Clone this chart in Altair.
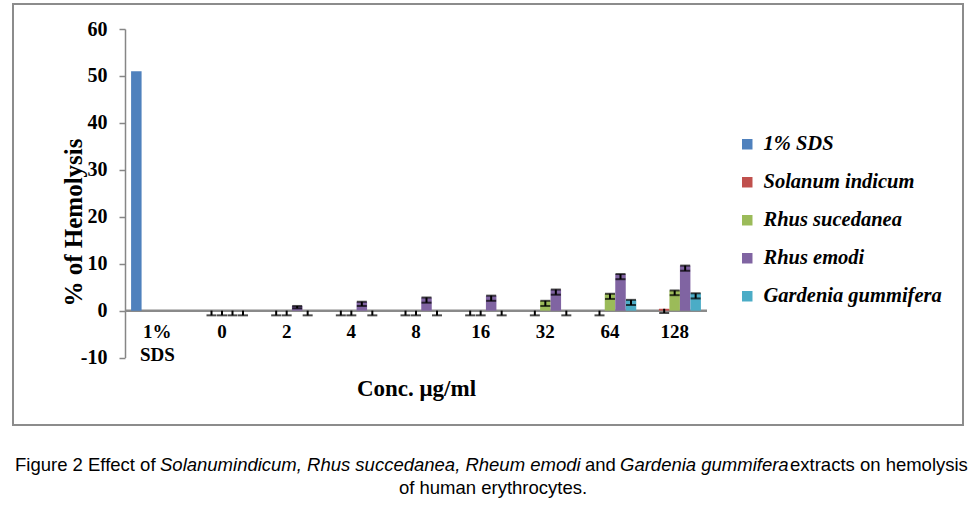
import altair as alt
import pandas as pd

categories = ["1% SDS", "0", "2", "4", "8", "16", "32", "64", "128"]
series = ["1% SDS", "Solanum indicum", "Rhus sucedanea", "Rhus emodi", "Gardenia gummifera"]
colors = ["#4F81BD", "#C0504D", "#9BBB59", "#8064A2", "#4BACC6"]

sds_vals = [51.0, None, None, None, None, None, None, None, None]
solanum_vals = [None, 0, 0, 0, 0, 0, 0, 0, 0.4]
rhus_suc_vals = [None, 0, 0, 0, 0, 0, 2.1, 3.6, 4.3]
rhus_emodi_vals = [None, 0, 1.0, 1.9, 2.8, 3.2, 4.5, 7.8, 9.6]
gardenia_vals = [None, 0, 0, 0, 0, 0, 0, 2.3, 3.7]

sds_err = [None] * 9
solanum_err = [None, 1.0, 1.0, 1.0, 1.0, 1.0, 1.0, 1.0, 0.9]
rhus_suc_err = [None, 1.0, 1.0, 1.0, 1.0, 1.0, 1.1, 1.1, 1.0]
rhus_emodi_err = [None, 1.0, 0.5, 0.9, 1.1, 1.1, 1.1, 1.1, 1.1]
gardenia_err = [None, 1.0, 1.0, 1.0, 1.0, 1.0, 1.0, 1.1, 1.1]

y_ticks = [-10, 0, 10, 20, 30, 40, 50, 60]

all_vals = [sds_vals, solanum_vals, rhus_suc_vals, rhus_emodi_vals, gardenia_vals]
all_errs = [sds_err, solanum_err, rhus_suc_err, rhus_emodi_err, gardenia_err]

rows = []
for si, s in enumerate(series):
    for ci, c in enumerate(categories):
        v = all_vals[si][ci]
        if v is None:
            continue
        e = all_errs[si][ci]
        rows.append({
            "cat": c, "series": s, "v": v,
            "lo": (v - e) if e is not None else None,
            "hascap": e is not None,
            "topcap": (e is not None) and v > 0.5,
        })
df = pd.DataFrame(rows)
one = pd.DataFrame([{"k": 1}])

SERIF = "Liberation Serif"
W, H = 582, 328.6

xenc = alt.X("cat:N", sort=categories, scale=alt.Scale(paddingInner=0, paddingOuter=0),
             axis=alt.Axis(title="Conc. μg/ml", orient="bottom", offset=-47.6, domain=False, ticks=False,
                           labelAngle=0, labelPadding=12, labelFont=SERIF, labelFontWeight="bold",
                           labelFontSize=19, labelColor="black", labelLineHeight=23,
                           labelExpr="datum.label == '1% SDS' ? ['1%', 'SDS'] : datum.label",
                           titleFont=SERIF, titleFontWeight="bold", titleFontSize=23,
                           titleColor="black", titleY=78, titleBaseline="middle"))
xoff = alt.XOffset("series:N", sort=series, scale=alt.Scale(paddingInner=0, paddingOuter=0.58))
yscale = alt.Scale(domain=[-10, 60], nice=False, zero=False)

bars = alt.Chart(df).mark_bar().encode(
    x=xenc,
    xOffset=xoff,
    y=alt.Y("v:Q", scale=yscale,
            axis=alt.Axis(title="% of Hemolysis", values=y_ticks, grid=False,
                          domainColor="#868686", domainWidth=1.5, tickColor="#868686",
                          tickSize=6, tickWidth=1.5, labelPadding=12,
                          labelExpr="datum.value < 0 ? '-' + abs(datum.value) : datum.label",
                          labelFont=SERIF, labelFontWeight="bold", labelFontSize=20,
                          labelColor="black",
                          titleFont=SERIF, titleFontWeight="bold", titleFontSize=25,
                          titleColor="black", titleX=-52, titleY=193,
                          titleAlign="center", titleBaseline="middle")),
    color=alt.Color("series:N", sort=series,
                    scale=alt.Scale(domain=series, range=colors),
                    legend=alt.Legend(title=None, orient="none", legendX=612, legendY=105,
                                      symbolType="square", symbolSize=110, symbolStrokeWidth=0,
                                      labelFont=SERIF, labelFontStyle="italic",
                                      labelFontWeight="bold", labelFontSize=20.5,
                                      labelColor="black", rowPadding=17, labelOffset=6,
                                      labelLimit=300)),
)

zero_line = alt.Chart(one).mark_rule(color="#8a8a8a", strokeWidth=2.5).encode(
    y=alt.datum(0, scale=yscale), x=alt.value(0), x2=alt.value(W))

err_df = df[df["hascap"]]
err_rule = alt.Chart(err_df).mark_rule(color="black", strokeWidth=2).encode(
    x=alt.X("cat:N", sort=categories), xOffset=xoff,
    y=alt.Y("lo:Q", scale=yscale), y2="v:Q")
err_cap = alt.Chart(err_df).mark_tick(color="black", size=10, thickness=2, orient="horizontal").encode(
    x=alt.X("cat:N", sort=categories), xOffset=xoff, y=alt.Y("lo:Q", scale=yscale))
top_cap = alt.Chart(df[df["topcap"]]).mark_tick(color="black", size=10, thickness=2,
                                                orient="horizontal").encode(
    x=alt.X("cat:N", sort=categories), xOffset=xoff, y=alt.Y("v:Q", scale=yscale))

border = alt.Chart(one).mark_rect(filled=False, stroke="#8c8c8c", strokeWidth=2).encode(
    x=alt.value(-112), x2=alt.value(838), y=alt.value(-25), y2=alt.value(396))

CAP_FONT = "Liberation Sans"
CAP_SIZE = 18.5
def cap_text(txt, x, y, italic=False, align="left"):
    return alt.Chart(one).mark_text(text=txt, align=align, baseline="middle", font=CAP_FONT,
                                    fontSize=CAP_SIZE, fontStyle="italic" if italic else "normal",
                                    color="black").encode(x=alt.value(x), y=alt.value(y))

caption = [
    cap_text("Figure 2 Effect of", -110, 436),
    cap_text("Solanumindicum, Rhus succedanea, Rheum emodi", 35, 436, italic=True),
    cap_text("and", 460, 436),
    cap_text("Gardenia gummifera", 495, 436, italic=True),
    cap_text("extracts on hemolysis", 665, 436),
    cap_text("of human erythrocytes.", 368, 459, align="center"),
]

chart = alt.layer(border, zero_line, bars, err_rule, err_cap, top_cap, *caption).properties(
    width=W, height=H,
    autosize=alt.AutoSizeParams(type="none"),
    padding={"left": 125, "top": 29, "right": 974 - 125 - W, "bottom": 506 - 29 - H},
    background="white",
).configure_view(stroke=None)

chart.save("out.html", embed_options={"renderer": "svg", "actions": False})
